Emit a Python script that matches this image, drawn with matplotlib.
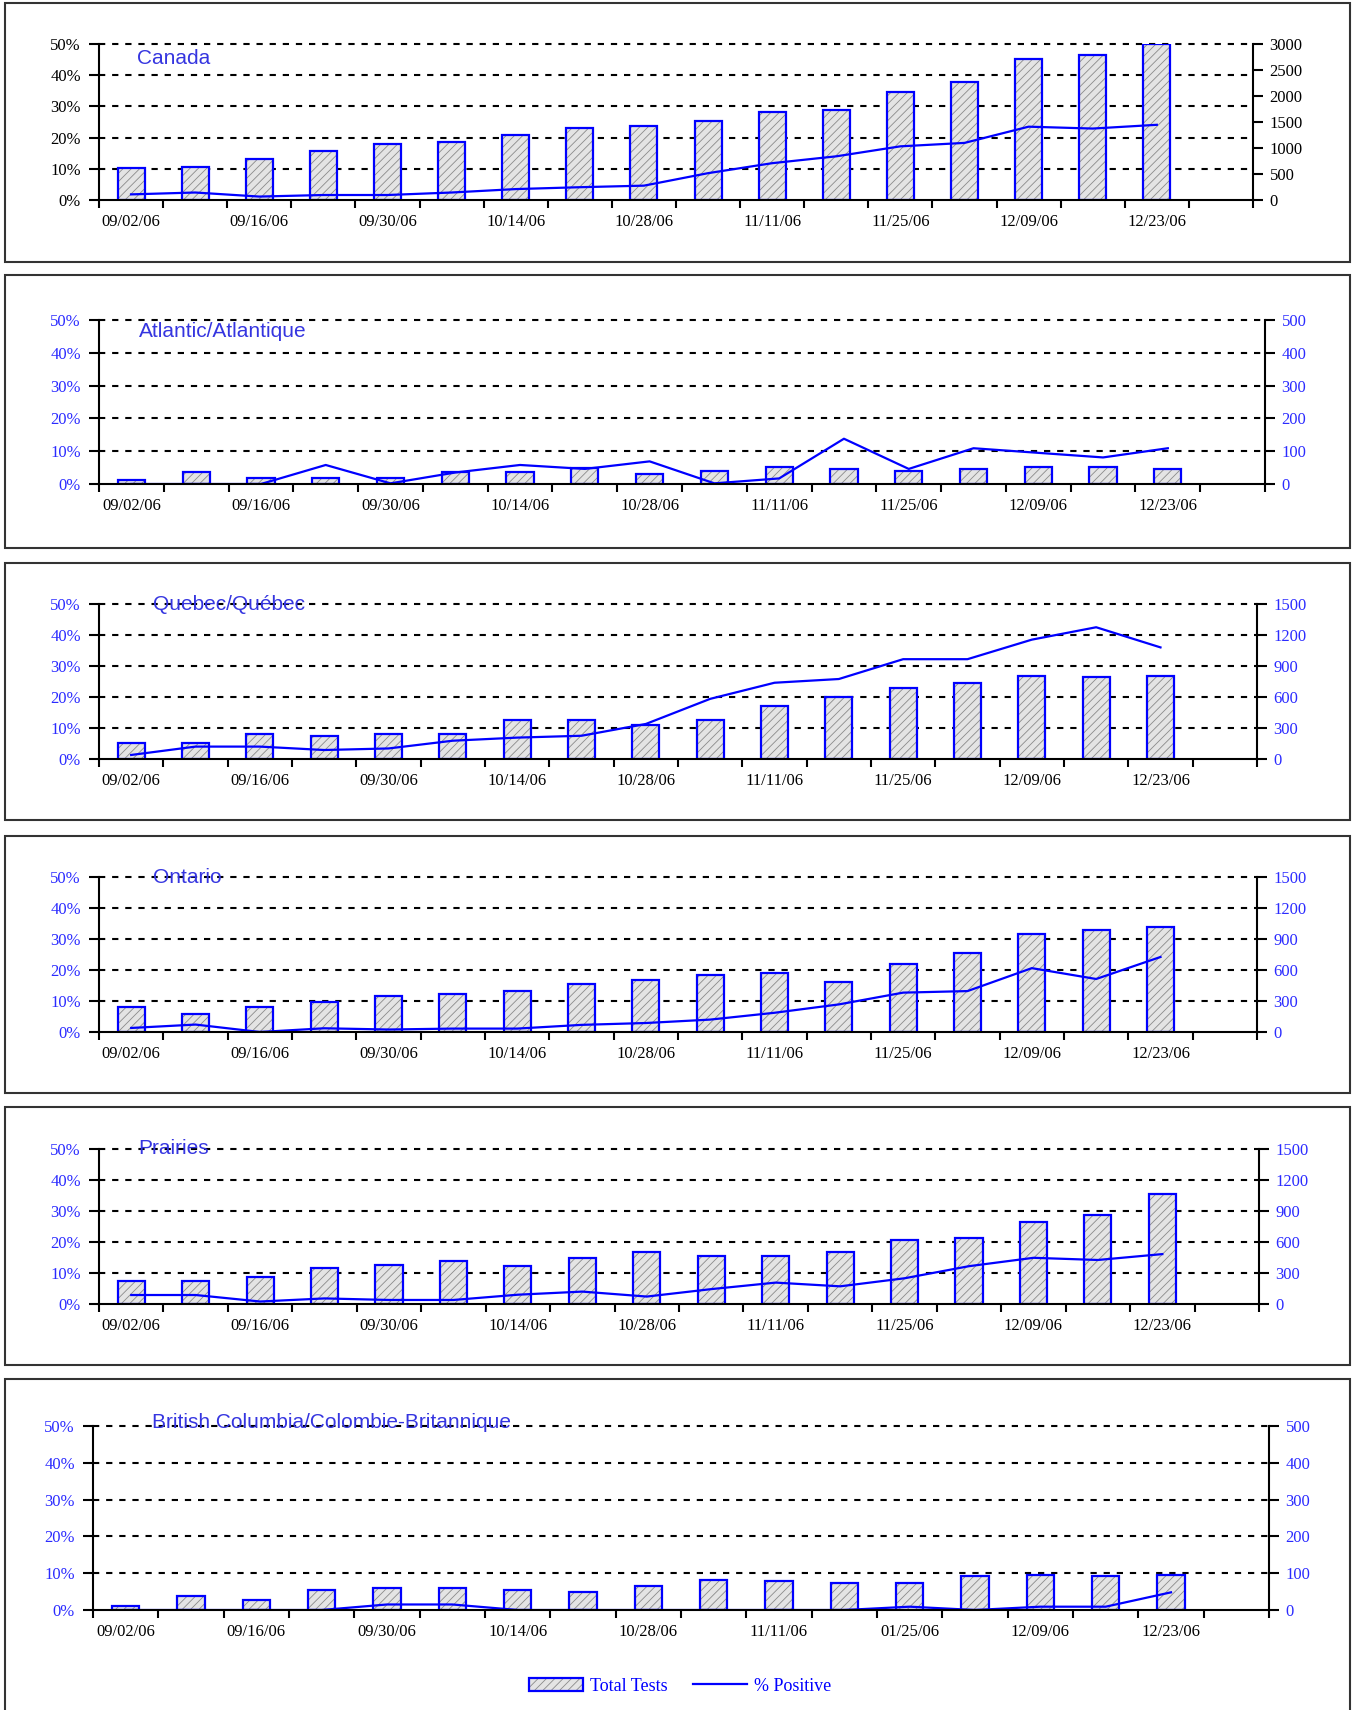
import numpy as np
import matplotlib
matplotlib.use("Agg")
import matplotlib.pyplot as plt
from matplotlib.patches import Rectangle, Patch
from matplotlib.lines import Line2D

# weekly periods (17 weeks, one empty slot at the end of each chart)
weeks = ["09/02/06", "09/09/06", "09/16/06", "09/23/06", "09/30/06", "10/07/06",
         "10/14/06", "10/21/06", "10/28/06", "11/04/06", "11/11/06", "11/18/06",
         "11/25/06", "12/02/06", "12/09/06", "12/16/06", "12/23/06"]
date_labels = ["09/02/06", "09/16/06", "09/30/06", "10/14/06", "10/28/06",
               "11/11/06", "11/25/06", "12/09/06", "12/23/06"]
bc_date_labels = ["09/02/06", "09/16/06", "09/30/06", "10/14/06", "10/28/06",
                  "11/11/06", "01/25/06", "12/09/06", "12/23/06"]

# total tests (right axis) and % positive (left axis)
canada_tests = [620, 625, 790, 935, 1075, 1110, 1245, 1385, 1420, 1515, 1690, 1730, 2075, 2275, 2720, 2790, 3000]
canada_pos = [1.8, 2.4, 1.1, 1.6, 1.6, 2.4, 3.5, 4.1, 4.6, 8.6, 11.8, 14.0, 17.2, 18.3, 23.5, 22.9, 24.1]

atlantic_tests = [11, 36, 17, 17, 17, 36, 36, 48, 29, 40, 51, 46, 40, 46, 51, 51, 46]
atlantic_pos = [0, 0, 0, 5.8, 0.2, 3.5, 5.8, 4.6, 6.9, 0.2, 1.7, 13.8, 4.6, 10.9, 9.5, 8.1, 10.9]

quebec_tests = [155, 155, 242, 226, 242, 242, 381, 381, 329, 381, 516, 603, 690, 739, 806, 794, 806]
quebec_pos = [1.3, 4.0, 4.0, 2.9, 3.4, 5.9, 6.9, 7.5, 11.3, 19.4, 24.6, 25.8, 32.2, 32.2, 38.5, 42.5, 36.0]

ontario_tests = [242, 174, 242, 294, 345, 365, 400, 465, 500, 552, 571, 484, 655, 761, 952, 984, 1019]
ontario_pos = [1.3, 2.4, 0.0, 1.2, 0.8, 1.1, 1.1, 2.3, 2.9, 4.0, 6.2, 8.9, 12.7, 13.2, 20.6, 17.1, 24.2]

prairies_tests = [226, 226, 261, 345, 381, 416, 365, 448, 500, 465, 465, 500, 619, 639, 794, 865, 1068]
prairies_pos = [2.9, 2.9, 0.8, 1.8, 1.3, 1.3, 3.0, 4.0, 2.4, 4.8, 6.9, 5.7, 8.3, 12.2, 14.9, 14.2, 16.1]

bc_tests = [10, 37, 26, 54, 59, 59, 54, 49, 64, 82, 80, 74, 74, 92, 95, 92, 95]
bc_pos = [0, 0, 0, 0, 1.5, 1.5, 0, 0, 0, 0, 0, 0, 0.9, 0, 0.9, 0.9, 4.8]

BLUE = "#0000ff"
LABEL_BLUE = "#2b2bff"
TITLE_BLUE = "#3535e0"

plt.rcParams["font.family"] = ["Liberation Serif", "DejaVu Serif"]
plt.rcParams["hatch.linewidth"] = 0.6

W, H = 1358, 1710
fig = plt.figure(figsize=(W / 100, H / 100), dpi=100)


def px_rect(left, right, top, bottom):
    return [left / W, 1 - bottom / H, (right - left) / W, (bottom - top) / H]


def draw_box(top, bottom, left=5, right=1350):
    fig.patches.append(Rectangle((left / W, 1 - bottom / H), (right - left) / W, (bottom - top) / H,
                                 transform=fig.transFigure, fill=False,
                                 edgecolor="#333333", lw=1.5))


def panel(rect, title, title_xy, tests, pos, tmax, tstep, labels, label_color):
    ax = fig.add_axes(rect)
    ax2 = ax.twinx()
    ax.set_zorder(ax2.get_zorder() + 1)
    ax.patch.set_visible(False)

    ax.set_xlim(-0.5, len(weeks) + 0.5)
    ax.set_ylim(0, 50)
    ax2.set_ylim(0, tmax)

    # dotted gridlines follow the % axis but sit behind the bars
    ticks = np.arange(0, 51, 10)
    for t in ticks[1:]:
        ax2.add_line(Line2D([0, 1], [t, t], transform=ax.get_yaxis_transform(),
                            color="black", ls=(0, (3, 3.3)), lw=1.5, zorder=0.5,
                            clip_on=False))

    x = np.arange(len(weeks))
    ax2.bar(x, tests, width=0.42, color="#e4e4e4", edgecolor="#8a8a8a", hatch="////", lw=0, zorder=1)
    ax2.bar(x, tests, width=0.42, fill=False, edgecolor=BLUE, lw=1.6, zorder=2)
    ax.plot(x, pos, color=BLUE, lw=1.6)

    ax.set_yticks(ticks, labels=[f"{t}%" for t in ticks])
    ax2.set_yticks(np.arange(0, tmax + 1, tstep))

    ax.set_xticks(np.arange(-0.5, len(weeks) + 1, 1), labels=[])
    ax.set_xticks(np.arange(0, len(weeks), 2), labels=labels, minor=True)
    ax.tick_params(axis="x", which="major", length=6, width=1.5, direction="out")
    ax.tick_params(axis="x", which="minor", length=0, pad=10, labelsize=12)
    ax.tick_params(axis="y", length=7, width=1.5, pad=6, labelsize=12, labelcolor=label_color)
    ax2.tick_params(axis="y", length=7, width=1.5, pad=5, labelsize=12, labelcolor=label_color)

    for s in ["top", "right"]:
        ax.spines[s].set_visible(False)
    for s in ["top", "left", "bottom"]:
        ax2.spines[s].set_visible(False)
    ax.spines["left"].set_linewidth(1.5)
    ax.spines["bottom"].set_linewidth(1.5)
    ax2.spines["right"].set_linewidth(1.5)

    ax.text(title_xy[0], title_xy[1], title, transform=ax.transAxes, color=TITLE_BLUE,
            fontsize=15, family=["Liberation Sans", "DejaVu Sans"], ha="left", va="center")
    return ax


draw_box(3, 262)
panel(px_rect(99, 1253, 44, 200), "Canada", (0.033, 0.904),
      canada_tests, canada_pos, 3000, 500, date_labels, "black")

draw_box(275, 548)
panel(px_rect(99, 1265, 320, 484), "Atlantic/Atlantique", (0.034, 0.929),
      atlantic_tests, atlantic_pos, 500, 100, date_labels, LABEL_BLUE)

draw_box(563, 820)
panel(px_rect(99, 1257, 604, 759), "Quebec/Québec", (0.047, 1.0),
      quebec_tests, quebec_pos, 1500, 300, date_labels, LABEL_BLUE)

draw_box(836, 1093)
panel(px_rect(99, 1257, 877, 1032), "Ontario", (0.047, 1.0),
      ontario_tests, ontario_pos, 1500, 300, date_labels, LABEL_BLUE)

draw_box(1107, 1365)
panel(px_rect(99, 1259, 1149, 1304), "Prairies", (0.034, 1.0),
      prairies_tests, prairies_pos, 1500, 300, date_labels, LABEL_BLUE)

draw_box(1379, 1715)
panel(px_rect(93, 1269, 1426, 1610), "British Columbia/Colombie-Britannique", (0.05, 1.02),
      bc_tests, bc_pos, 500, 100, bc_date_labels, LABEL_BLUE)

# legend below the last chart
bar_fill = Patch(facecolor="#e4e4e4", edgecolor="#8a8a8a", hatch="////", lw=0)
bar_edge = Patch(fill=False, edgecolor=BLUE, lw=1.6)
line_handle = Line2D([], [], color=BLUE, lw=1.6)
fig.legend(handles=[(bar_fill, bar_edge), line_handle], labels=["Total Tests", "% Positive"],
           loc="center", bbox_to_anchor=(680 / W, 1 - 1686 / H), ncol=2, frameon=False,
           fontsize=13, labelcolor=BLUE, handlelength=3.0, handletextpad=0.4,
           columnspacing=1.4)

fig.savefig("out.png", dpi=100)
